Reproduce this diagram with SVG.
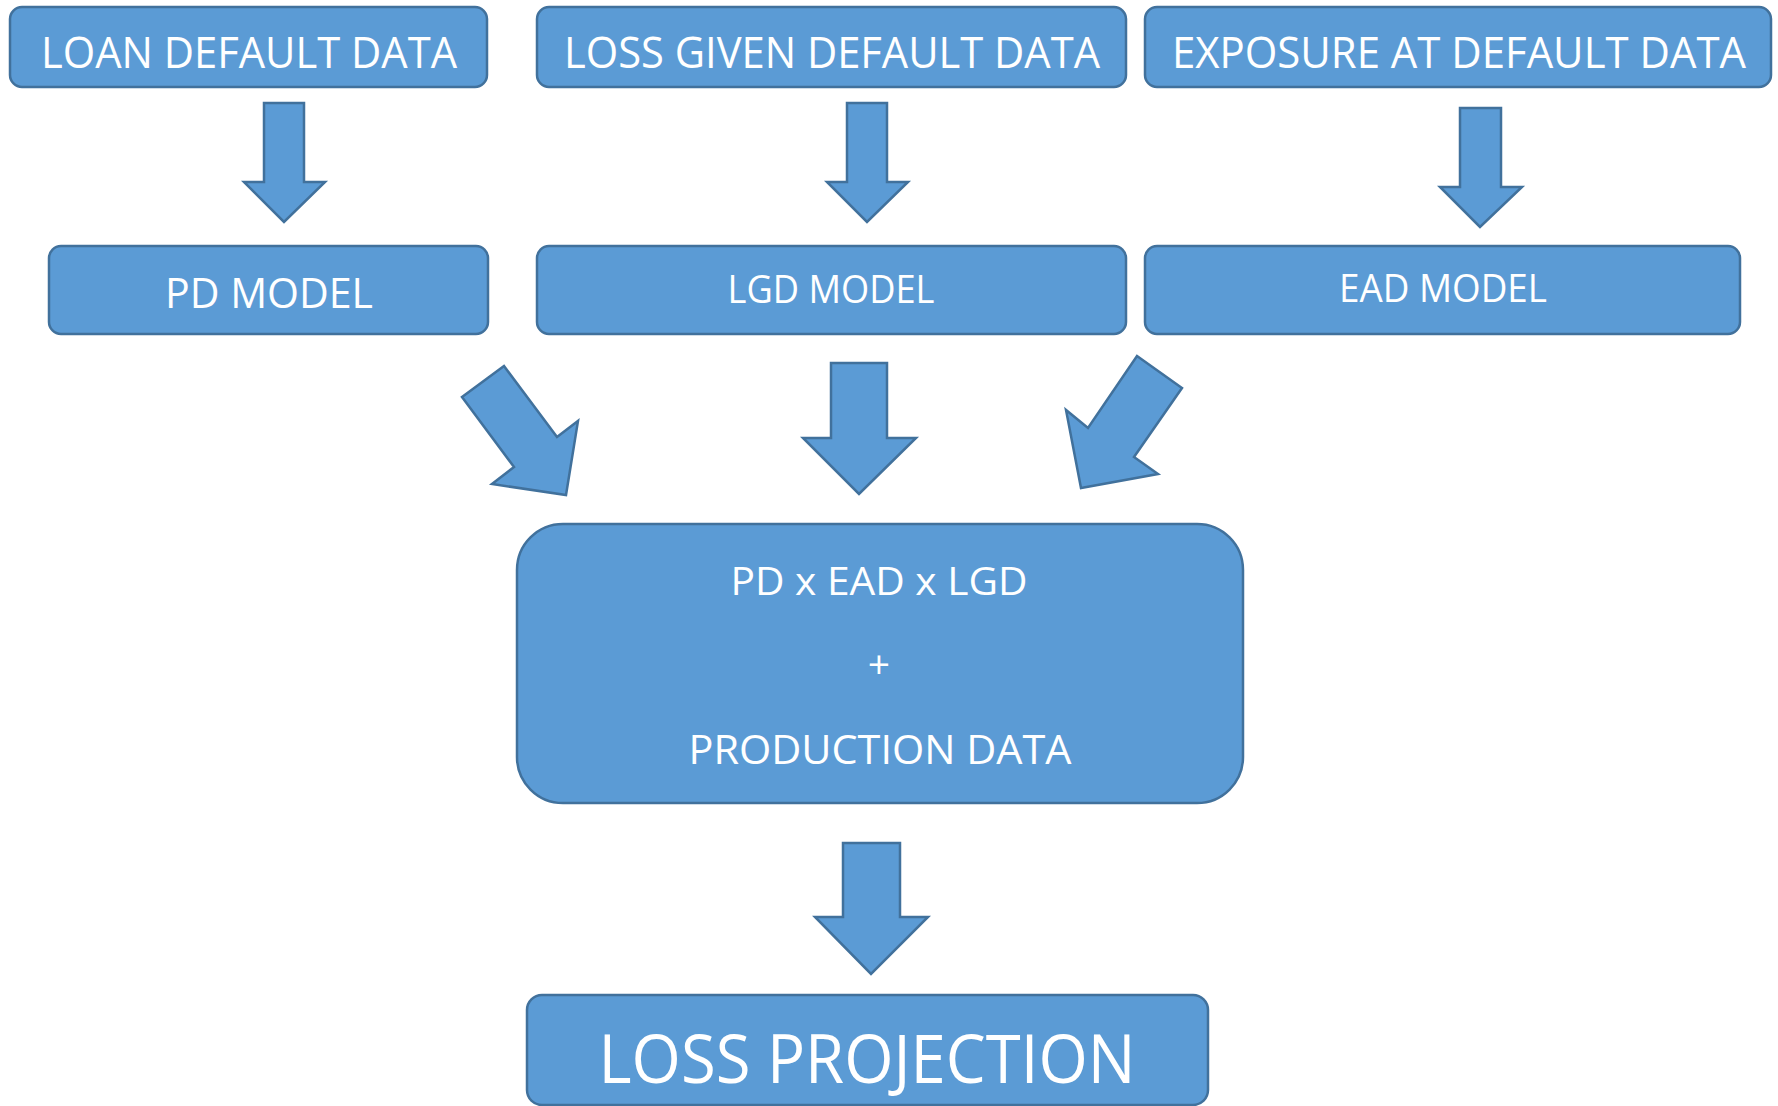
<svg xmlns="http://www.w3.org/2000/svg" width="1778" height="1106" viewBox="0 0 1778 1106">
  <style>
    .box { fill: #5B9BD5; stroke: #41719C; stroke-width: 2.5; }
    .arrow { fill: #5B9BD5; stroke: #41719C; stroke-width: 2.5; stroke-linejoin: miter; }
    .lbl { fill: #FFFFFF; font-family: "Open Sans", "Noto Sans", "Liberation Sans", sans-serif; text-anchor: middle; }
  </style>
  <rect width="1778" height="1106" fill="#FFFFFF"/>

  <!-- data sources -->
  <g id="loan-default-data">
    <rect class="box" x="10" y="7" width="477" height="80" rx="12"/>
    <text class="lbl" x="249" y="68" font-size="43" textLength="416" lengthAdjust="spacingAndGlyphs">LOAN DEFAULT DATA</text>
  </g>
  <g id="lgd-data">
    <rect class="box" x="537" y="7" width="589" height="80" rx="12"/>
    <text class="lbl" x="832" y="68" font-size="43" textLength="536" lengthAdjust="spacingAndGlyphs">LOSS GIVEN DEFAULT DATA</text>
  </g>
  <g id="ead-data">
    <rect class="box" x="1145" y="7" width="626" height="80" rx="12"/>
    <text class="lbl" x="1459" y="68" font-size="43" textLength="574" lengthAdjust="spacingAndGlyphs">EXPOSURE AT DEFAULT DATA</text>
  </g>

  <!-- models -->
  <g id="pd-model">
    <rect class="box" x="49" y="246" width="439" height="88" rx="12"/>
    <text class="lbl" x="269" y="308" font-size="42" textLength="208" lengthAdjust="spacingAndGlyphs">PD MODEL</text>
  </g>
  <g id="lgd-model">
    <rect class="box" x="537" y="246" width="589" height="88" rx="12"/>
    <text class="lbl" x="831" y="303" font-size="39" textLength="207" lengthAdjust="spacingAndGlyphs">LGD MODEL</text>
  </g>
  <g id="ead-model">
    <rect class="box" x="1145" y="246" width="595" height="88" rx="12"/>
    <text class="lbl" x="1443" y="302" font-size="38" textLength="208" lengthAdjust="spacingAndGlyphs">EAD MODEL</text>
  </g>

  <!-- combination step -->
  <g id="combine">
    <rect class="box" x="517" y="524" width="726" height="279" rx="46"/>
    <text class="lbl" x="879" y="595" font-size="39" textLength="297" lengthAdjust="spacingAndGlyphs">PD x EAD x LGD</text>
    <text class="lbl" x="879" y="678" font-size="39">+</text>
    <text class="lbl" x="880" y="764" font-size="40" textLength="383" lengthAdjust="spacingAndGlyphs">PRODUCTION DATA</text>
  </g>

  <!-- result -->
  <g id="loss-projection">
    <rect class="box" x="527" y="995" width="681" height="110" rx="15"/>
    <text class="lbl" x="867" y="1083" font-size="67" textLength="537" lengthAdjust="spacingAndGlyphs">LOSS PROJECTION</text>
  </g>

  <!-- block arrows -->
  <g id="connectors">
    <polygon class="arrow" points="264,103 304,103 304,182 325,182 284,222 244,182 264,182"/>
    <polygon class="arrow" points="847,103 887,103 887,182 908,182 867,222 827,182 847,182"/>
    <polygon class="arrow" points="1460,108 1501,108 1501,187 1522,187 1480,227 1440,187 1460,187"/>
    <polygon class="arrow" points="462,397 504,366 557,437 578,421 566,495 492,484 514,467"/>
    <polygon class="arrow" points="831,363 887,363 887,438 916,438 859,494 803,438 831,438"/>
    <polygon class="arrow" points="1137,356 1182,388 1134,457 1158,474 1081,488 1066,410 1088,428"/>
    <polygon class="arrow" points="843,843 900,843 900,917 928,917 871,974 815,917 843,917"/>
  </g>
</svg>
